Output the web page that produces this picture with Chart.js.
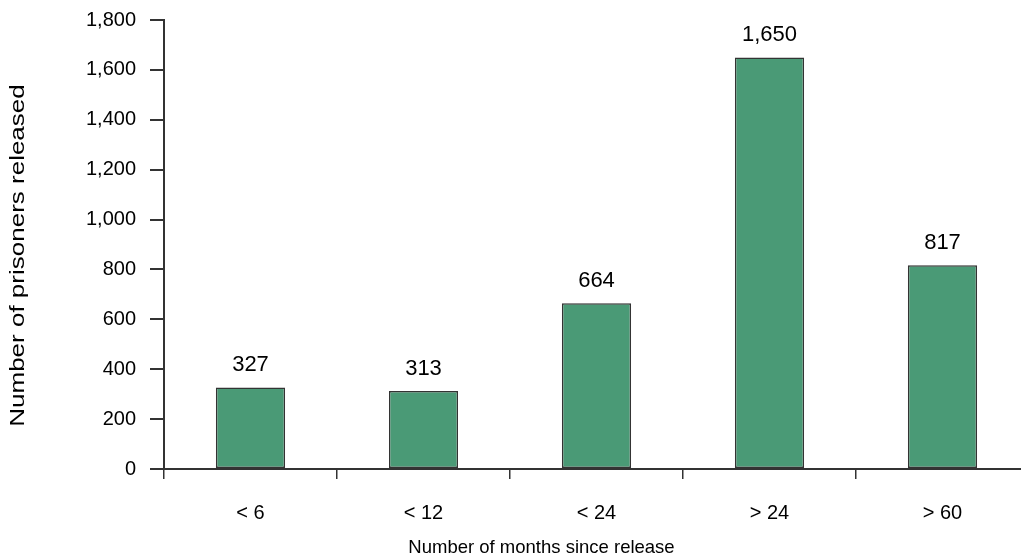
<!DOCTYPE html>
<html>
<head>
<meta charset="utf-8">
<script src="https://cdn.jsdelivr.net/npm/chart.js@4/dist/chart.umd.min.js"></script>
<style>
  html, body { margin: 0; padding: 0; background: #fff; overflow: hidden; }
  #wrap { width: 1035px; height: 559px; position: relative; }
</style>
</head>
<body>
<div id="wrap"><canvas id="chart"></canvas></div>
<script>
const months    = ['< 6', '< 12', '< 24', '> 24', '> 60'];
const released  = [327, 313, 664, 1650, 817];
const yTicks    = [0, 200, 400, 600, 800, 1000, 1200, 1400, 1600, 1800];
const xTitle    = 'Number of months since release';
const yTitle    = 'Number of prisoners released';

const FONT = '"Liberation Sans", Arial, sans-serif';
const INK  = '#333';

// value above each bar
const barLabels = {
    id: 'barLabels',
    afterDatasetsDraw(chart)
    {
        const ctx  = chart.ctx;
        const meta = chart.getDatasetMeta(0);
        ctx.save();
        ctx.font = '22px ' + FONT;
        ctx.fillStyle = '#000';
        ctx.textAlign = 'center';
        ctx.textBaseline = 'middle';
        meta.data.forEach((bar, i) => {
            ctx.fillText(released[i].toLocaleString('en-US'), bar.x, bar.y - 22);
        });
        ctx.restore();
    }
};

// axis titles, drawn by hand so they sit where the layout wants them
const axisTitles = {
    id: 'axisTitles',
    afterDraw(chart)
    {
        const ctx  = chart.ctx;
        const area = chart.chartArea;
        ctx.save();
        ctx.fillStyle = '#000';
        ctx.textAlign = 'center';
        ctx.textBaseline = 'middle';
        ctx.font = '18.5px ' + FONT;
        ctx.fillText(xTitle, (area.left + area.right) / 2 - 55, 548);
        ctx.font = '20px ' + FONT;
        ctx.translate(18, (area.top + area.bottom) / 2 + 11);
        ctx.rotate(-Math.PI / 2);
        ctx.scale(1.3, 1);
        ctx.fillText(yTitle, 0, 0);
        ctx.restore();
    }
};

new Chart(document.getElementById('chart'), {
    type: 'bar',
    data: {
        labels: months,
        datasets: [{
            data: released,
            backgroundColor: '#4a9a76',
            borderColor: INK,
            borderWidth: 1.5,
            borderSkipped: false,
            barPercentage: 0.4,
            categoryPercentage: 1
        }]
    },
    options: {
        responsive: true,
        maintainAspectRatio: false,
        animation: false,
        layout: { padding: { top: 20, right: 6, left: 0, bottom: 0 } },
        plugins: {
            legend: { display: false },
            tooltip: { enabled: false }
        },
        scales: {
            x: {
                grid: {
                    offset: true,
                    drawOnChartArea: false,
                    tickLength: 10,
                    color: INK,
                    lineWidth: 1.5
                },
                border: { color: INK, width: 2 },
                ticks: {
                    color: '#000',
                    padding: 22,
                    maxRotation: 0,
                    font: { family: FONT, size: 20 }
                },
                afterFit(scale) {
                    scale.height = 90;
                    scale.paddingLeft = 0;
                    scale.paddingRight = 0;
                }
            },
            y: {
                min: 0,
                max: 1800,
                afterBuildTicks(scale) { scale.ticks = yTicks.map(v => ({ value: v })); },
                grid: {
                    drawOnChartArea: false,
                    tickLength: 14,
                    color: INK,
                    lineWidth: 2
                },
                border: { color: INK, width: 2 },
                ticks: {
                    color: '#000',
                    padding: 14,
                    font: { family: FONT, size: 20 },
                    callback: v => v.toLocaleString('en-US')
                },
                afterFit(scale) {
                    scale.width = 164;
                    scale.paddingTop = 0;
                    scale.paddingBottom = 0;
                }
            }
        }
    },
    plugins: [barLabels, axisTitles]
});
</script>
</body>
</html>
